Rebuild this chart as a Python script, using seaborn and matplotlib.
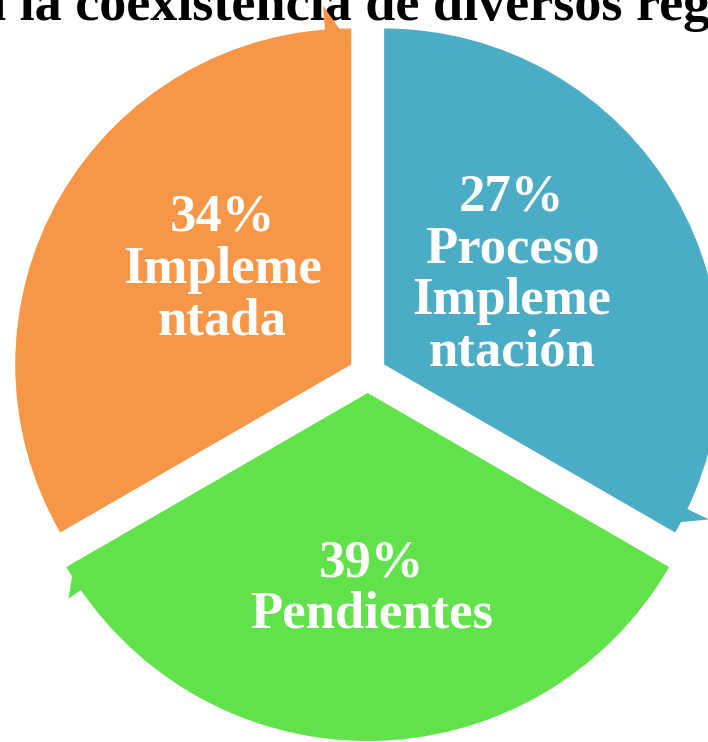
import matplotlib
matplotlib.use("Agg")
import matplotlib.pyplot as plt
import numpy as np
import seaborn as sns
from matplotlib.patches import Polygon

# cycle segments, counter-clockwise starting at the top gap
NAMES = ["Impleme\nntada", "Pendientes", "Proceso\nImpleme\nntación"]
PERCENTS = [34, 39, 27]
SHARES = [1, 1, 1]  # the diagram draws three equal segments
COLORS = ["#F79646", "#62E24A", "#4BACC6"]
HEADER = "n la coexistencia de diversos regímenes"

W, H = 708, 742


def _arrow_head(ax, wedge, inset, barb):
    # barb sticks out of the rim near the start of each segment
    cx, cy = wedge.center
    r = wedge.r
    t0 = np.deg2rad(wedge.theta1)
    t1 = np.deg2rad(wedge.theta1 + 4.5)
    pts = [
        (cx + (r - inset) * np.cos(t0), cy + (r - inset) * np.sin(t0)),
        (cx + (r + barb) * np.cos(t1), cy + (r + barb) * np.sin(t1)),
        (cx + (r - 60) * np.cos(t1), cy + (r - 60) * np.sin(t1)),
    ]
    ax.add_patch(
        Polygon(pts, closed=True, facecolor=wedge.get_facecolor(), lw=0, zorder=2)
    )


def main() -> None:
    sns.set_theme(style="white")
    plt.rcParams["font.family"] = ["Liberation Serif", "DejaVu Serif"]

    fig = plt.figure(figsize=(W / 100, H / 100), dpi=100)
    ax = fig.add_axes([0, 0, 1, 1])

    # explode is in data units here (pixels)
    wedges, _ = ax.pie(
        SHARES,
        colors=COLORS,
        startangle=90,
        counterclock=True,
        radius=336,
        center=(367.7, 368),
        explode=[19, 19, 19],
        wedgeprops=dict(linewidth=0, zorder=2),
    )
    wedges[1].set_radius(348)

    arrow_dims = [(17, 24), (9, 15), (17, 24)]
    for w, (inset, barb) in zip(wedges, arrow_dims):
        _arrow_head(ax, w, inset, barb)

    text_pos = [(160, 143.6), (196, 271), (156, 35)]
    for w, pct, name, (d, a) in zip(wedges, PERCENTS, NAMES, text_pos):
        cx, cy = w.center
        ang = np.deg2rad(a)
        ax.text(
            cx + d * np.cos(ang),
            cy + d * np.sin(ang),
            f"{pct}%\n{name}",
            color="white",
            fontsize=38,
            fontweight="bold",
            ha="center",
            va="center",
            multialignment="center",
            linespacing=1.1,
            zorder=4,
        )

    # header line of the page, cut off by the crop
    ax.text(
        -24, H - 20, HEADER,
        color="black", fontsize=39, fontweight="bold",
        ha="left", va="baseline", zorder=1,
    )

    ax.set_xlim(0, W)
    ax.set_ylim(0, H)
    ax.set_aspect("equal")
    ax.axis("off")

    fig.savefig("out.png", dpi=100)


if __name__ == "__main__":
    main()
